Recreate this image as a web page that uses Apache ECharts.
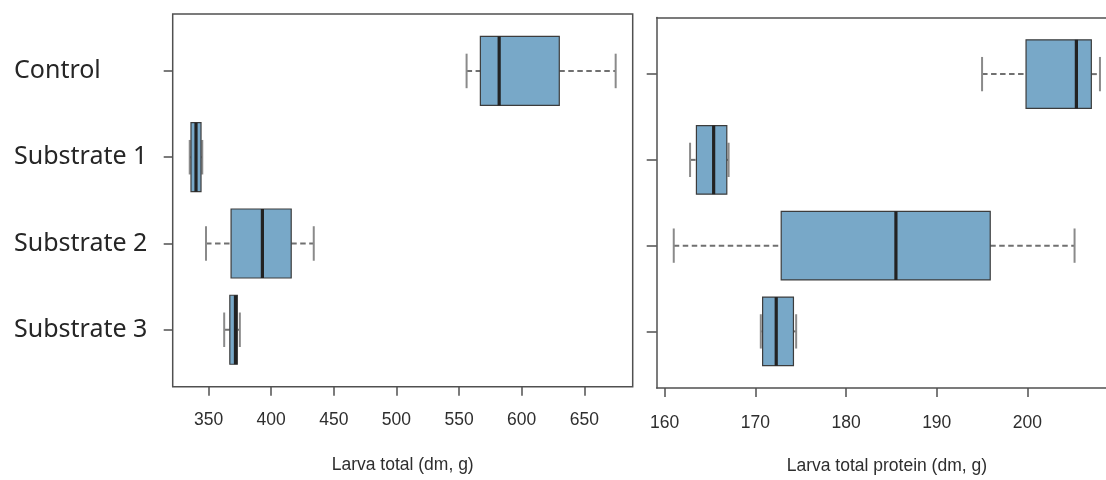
<!DOCTYPE html>
<html>
<head>
<meta charset="utf-8">
<script src="https://cdn.jsdelivr.net/npm/echarts@6/dist/echarts.min.js"></script>
<style>
  html, body { margin: 0; padding: 0; background: #ffffff; }
  #chart { width: 1106px; height: 480px; }
</style>
</head>
<body>
<div id="chart"></div>
<script>
// ---- data ----
const categories = ['Control', 'Substrate 1', 'Substrate 2', 'Substrate 3'];

// Larva total (dm, g)
const totalMin    = [556, 335, 348, 362.5];
const totalQ1     = [567, 336, 368, 367];
const totalMedian = [582, 340, 393, 371.5];
const totalQ3     = [630, 344, 416, 373];
const totalMax    = [675, 345, 434, 375];
const totalTicks  = [350, 400, 450, 500, 550, 600, 650];

// Larva total protein (dm, g)
const proteinMin    = [195.0, 162.8, 161.0, 170.6];
const proteinQ1     = [199.85, 163.5, 172.85, 170.8];
const proteinMedian = [205.4, 165.4, 185.5, 172.3];
const proteinQ3     = [207.05, 166.85, 195.9, 174.2];
const proteinMax    = [208.0, 167.05, 205.2, 174.5];
const proteinTicks  = [160, 170, 180, 190, 200];

const categoryPositions = [1, 2, 3, 4];

// ---- helpers ----
function rows(mn, q1, md, q3, mx) {
  return categories.map((c, i) => [categoryPositions[i], mn[i], q1[i], md[i], q3[i], mx[i]]);
}
function extent(mn, mx) {
  const lo = Math.min(...mn), hi = Math.max(...mx);
  const pad = (hi - lo) * 0.04;
  return [lo - pad, hi + pad];
}
const catExt = [0.5 - 0.16, 4.5 + 0.16];

const FILL = '#78a8c8';
const BORDER = '#3c3c3c';
const MEDIAN = '#222222';
const WHISK = '#707070';
const FRAME = '#505050';

function renderBox(params, api) {
  const y = api.value(0);
  const lo = api.coord([api.value(1), y]);
  const q1 = api.coord([api.value(2), y]);
  const md = api.coord([api.value(3), y]);
  const q3 = api.coord([api.value(4), y]);
  const hi = api.coord([api.value(5), y]);
  const unit = Math.abs(api.size([0, 1])[1]);
  const hb = unit * 0.4, hc = unit * 0.2;
  const cy = lo[1];
  const dash = { stroke: WHISK, lineWidth: 2, lineDash: [5.5, 3.5] };
  const cap = { stroke: '#8a8a8a', lineWidth: 2 };
  return {
    type: 'group',
    children: [
      { type: 'line', shape: { x1: lo[0], y1: cy, x2: q1[0], y2: cy }, style: dash },
      { type: 'line', shape: { x1: q3[0], y1: cy, x2: hi[0], y2: cy }, style: dash },
      { type: 'line', shape: { x1: lo[0], y1: cy - hc, x2: lo[0], y2: cy + hc }, style: cap },
      { type: 'line', shape: { x1: hi[0], y1: cy - hc, x2: hi[0], y2: cy + hc }, style: cap },
      { type: 'rect', shape: { x: q1[0], y: cy - hb, width: q3[0] - q1[0], height: 2 * hb },
        style: { fill: FILL, stroke: BORDER, lineWidth: 1.2 } },
      { type: 'line', shape: { x1: md[0], y1: cy - hb, x2: md[0], y2: cy + hb },
        style: { stroke: MEDIAN, lineWidth: 3.2 } }
    ]
  };
}

const totExt = extent(totalMin, totalMax);
const proExt = extent(proteinMin, proteinMax);
// right panel frame runs past the right edge of the picture: show only the visible part
const proFullWidth = 460.3, proLeft = 656.7, proVisible = 1106 - proLeft;
const proMaxVisible = proExt[0] + (proExt[1] - proExt[0]) * proVisible / proFullWidth;

const tickFont = { fontFamily: 'Liberation Sans', fontSize: 17.5, color: '#2e2e2e' };
const frameLine = { show: true, lineStyle: { color: FRAME, width: 1.5 } };

const option = {
  backgroundColor: '#ffffff',
  animation: false,
  grid: [
    { left: 172.7, top: 14, width: 460, height: 372.7, show: true,
      borderColor: FRAME, borderWidth: 1.5, backgroundColor: 'transparent' },
    { left: proLeft, top: 17.5, width: proVisible, height: 372.5, show: false }
  ],
  xAxis: [
    { type: 'value', gridIndex: 0, min: totExt[0], max: totExt[1],
      axisLine: { show: false }, splitLine: { show: false },
      axisTick: { show: true, length: 9, lineStyle: { color: FRAME, width: 1.5 }, customValues: totalTicks },
      axisLabel: Object.assign({ margin: 24, customValues: totalTicks }, tickFont),
      name: 'Larva total (dm, g)', nameLocation: 'middle', nameGap: 69,
      nameTextStyle: { fontFamily: 'Liberation Sans', fontSize: 17.5, color: '#2e2e2e' } },
    { type: 'value', gridIndex: 1, min: proExt[0], max: proMaxVisible,
      axisLine: frameLine, splitLine: { show: false },
      axisTick: { show: true, length: 9, lineStyle: { color: FRAME, width: 1.5 }, customValues: proteinTicks },
      axisLabel: Object.assign({ margin: 26, customValues: proteinTicks }, tickFont),
      name: 'Larva total protein (dm, g)', nameLocation: 'middle', nameGap: 69,
      nameTextStyle: { fontFamily: 'Liberation Sans', fontSize: 17.5, color: '#2e2e2e', padding: [0, 0, 0, proFullWidth - proVisible] } },
    { type: 'value', gridIndex: 1, position: 'top', min: proExt[0], max: proMaxVisible,
      axisLine: frameLine, splitLine: { show: false },
      axisTick: { show: false }, axisLabel: { show: false } }
  ],
  yAxis: [
    { type: 'value', gridIndex: 0, min: catExt[0], max: catExt[1], inverse: true,
      axisLine: { show: false }, splitLine: { show: false },
      axisTick: { show: true, length: 9, lineStyle: { color: FRAME, width: 1.5 }, customValues: categoryPositions },
      axisLabel: { show: true, customValues: categoryPositions, align: 'left', margin: 158.7,
        formatter: (v) => categories[Math.round(v) - 1] || '',
        fontFamily: 'Noto Sans', fontSize: 25, color: '#262626' } },
    { type: 'value', gridIndex: 1, min: catExt[0], max: catExt[1], inverse: true,
      axisLine: frameLine, splitLine: { show: false },
      axisTick: { show: true, length: 10, lineStyle: { color: FRAME, width: 1.5 }, customValues: categoryPositions },
      axisLabel: { show: false } }
  ],
  series: [
    { type: 'custom', xAxisIndex: 0, yAxisIndex: 0, renderItem: renderBox,
      encode: { x: [1, 2, 3, 4, 5], y: 0 },
      data: rows(totalMin, totalQ1, totalMedian, totalQ3, totalMax) },
    { type: 'custom', xAxisIndex: 1, yAxisIndex: 1, renderItem: renderBox,
      encode: { x: [1, 2, 3, 4, 5], y: 0 },
      data: rows(proteinMin, proteinQ1, proteinMedian, proteinQ3, proteinMax) }
  ]
};

const chart = echarts.init(document.getElementById('chart'), null, { renderer: 'canvas' });
chart.setOption(option);
</script>
</body>
</html>
